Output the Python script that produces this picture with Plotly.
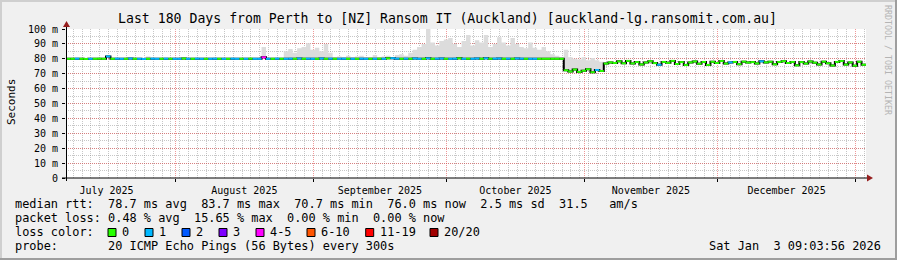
import pandas as pd
import plotly.graph_objects as go

W, H = 897, 260
PL, PR, PT, PB = 66, 866, 29, 178  # plot area in px

START = pd.Timestamp("2025-07-07 09:03:56")
END = pd.Timestamp("2026-01-03 09:03:56")

# ---- data: one value per day (180 days) ----
median_ms = [
    80.0, 80.0, 80.1, 80.0, 79.9, 80.0, 80.0, 80.1, 80.0, 81.6,
    80.0, 80.1, 80.0, 80.0, 80.2, 80.0, 80.0, 79.9, 80.0, 80.1,
    80.0, 80.0, 80.1, 80.0, 80.0, 80.0, 80.2, 80.0, 80.0, 80.1,
    80.0, 80.0, 80.0, 80.1, 80.0, 80.0, 80.0, 80.1, 80.0, 80.0,
    80.0, 80.1, 80.0, 80.0, 81.0, 80.0, 80.0, 80.1, 80.0, 80.0,
    80.1, 80.0, 80.2, 80.0, 80.1, 80.0, 80.0, 80.2, 80.0, 80.1,
    80.0, 80.0, 80.1, 80.0, 80.0, 80.0, 80.1, 80.0, 80.0, 80.0,
    80.1, 80.0, 80.3, 80.4, 80.1, 80.0, 80.1, 80.0, 80.2, 80.0,
    80.0, 80.3, 80.0, 80.1, 80.2, 80.0, 80.0, 80.1, 80.3, 80.0,
    80.1, 80.0, 80.2, 80.0, 80.3, 80.0, 80.1, 80.2, 80.0, 80.1,
    80.0, 80.2, 80.1, 80.0, 80.0, 80.0, 80.0, 80.0, 80.0, 80.0,
    80.0, 80.0, 72.3, 71.5, 72.8, 71.2, 72.0, 73.0, 71.0, 72.5,
    71.8, 76.8, 77.6, 77.2, 78.3, 77.0, 78.6, 76.9, 77.8, 76.2,
    77.5, 78.4, 77.1, 76.0, 77.9, 77.3, 78.6, 76.5, 77.8, 75.8,
    77.6, 78.2, 76.7, 77.9, 75.9, 78.0, 77.2, 78.5, 76.8, 77.6,
    77.9, 76.4, 78.1, 77.5, 77.8, 76.9, 78.3, 77.6, 78.0, 76.3,
    77.9, 78.4, 77.2, 77.9, 75.6, 77.8, 76.8, 78.2, 77.4, 76.2,
    78.1, 77.0, 75.5, 77.9, 78.5, 76.1, 77.6, 75.4, 78.0, 76.0,
]

smoke_top_ms = [
    80.4, 80.5, 80.6, 80.4, 80.5, 80.4, 80.6, 80.5, 80.4, 82.5,
    80.5, 80.6, 80.4, 80.5, 80.7, 80.5, 80.6, 80.4, 81.5, 80.6,
    80.5, 80.4, 80.6, 80.5, 80.4, 80.5, 80.7, 80.5, 80.4, 80.6,
    80.5, 80.4, 80.5, 80.6, 80.4, 80.5, 80.5, 80.6, 80.4, 80.5,
    80.5, 80.6, 80.5, 80.4, 88.0, 80.5, 80.6, 80.6, 80.5, 85.0,
    86.5, 84.0, 87.0, 88.0, 90.5, 86.0, 87.5, 85.0, 90.0, 84.0,
    81.0, 81.5, 81.0, 82.0, 81.0, 81.5, 82.0, 81.0, 81.0, 82.5,
    81.0, 81.5, 82.0, 81.0, 82.5, 83.0, 82.0, 84.0, 86.0, 88.0,
    90.0, 100.0, 91.0, 89.0, 92.0, 93.0, 94.0, 90.0, 88.0, 92.0,
    96.0, 89.0, 92.5, 91.0, 96.0, 88.0, 90.0, 94.5, 91.0, 89.0,
    94.0, 90.0, 88.0, 87.0, 91.0, 87.5, 86.0, 88.0, 85.0, 83.0,
    82.0, 81.0, 86.0, 81.0, 80.0, 79.5, 81.0, 79.0, 80.5, 79.0,
    78.0, 77.4, 78.2, 77.8, 78.9, 77.6, 79.2, 77.5, 78.4, 76.8,
    78.1, 79.0, 77.7, 76.6, 78.5, 77.9, 79.2, 77.1, 78.4, 76.4,
    78.2, 78.8, 77.3, 78.5, 76.5, 78.6, 77.8, 79.1, 77.4, 78.2,
    78.5, 77.0, 78.7, 78.1, 78.4, 77.5, 78.9, 78.2, 78.6, 76.9,
    78.5, 79.0, 77.8, 78.5, 76.2, 78.4, 77.4, 78.8, 78.0, 76.8,
    78.7, 77.6, 76.1, 78.5, 79.1, 76.7, 78.2, 76.0, 78.6, 76.6,
]

# loss class per day: 0 -> "0", 1 -> "1", 2 -> "2", 3 -> "3", 4 -> "4-5", 5 -> "6-10", 6 -> "11-19", 7 -> "20/20"
loss_class = [
    0, 0, 1, 0, 0, 1, 0, 0, 0, 1,
    0, 1, 1, 0, 1, 0, 1, 1, 0, 1,
    1, 0, 1, 0, 1, 1, 0, 1, 0, 1,
    1, 0, 1, 1, 0, 1, 0, 1, 1, 0,
    1, 0, 1, 1, 4, 1, 0, 1, 0, 1,
    1, 0, 1, 0, 1, 1, 0, 1, 0, 1,
    0, 1, 1, 0, 1, 0, 1, 1, 0, 1,
    0, 1, 0, 1, 1, 0, 1, 0, 1, 1,
    0, 1, 0, 1, 1, 0, 1, 1, 0, 1,
    0, 1, 1, 0, 1, 0, 1, 1, 0, 1,
    0, 1, 1, 0, 1, 1, 0, 0, 0, 0,
    0, 0, 0, 0, 0, 0, 0, 0, 0, 1,
    0, 0, 0, 0, 0, 0, 0, 0, 0, 0,
    0, 0, 0, 1, 0, 0, 0, 0, 0, 0,
    0, 0, 0, 0, 0, 0, 0, 0, 0, 1,
    0, 0, 0, 0, 0, 0, 1, 0, 0, 0,
    0, 0, 0, 0, 0, 0, 0, 0, 0, 0,
    0, 0, 0, 0, 0, 0, 0, 0, 0, 0,
]

loss_labels = ["0", "1", "2", "3", "4-5", "6-10", "11-19", "20/20"]
loss_colors = ["#26ff00", "#00b8ff", "#0059ff", "#7e00ff", "#ff00ff", "#ff5500", "#ff0000", "#a10000"]

y_tick_vals = [0, 10, 20, 30, 40, 50, 60, 70, 80, 90, 100]
y_tick_text = ["0", "10 m", "20 m", "30 m", "40 m", "50 m", "60 m", "70 m", "80 m", "90 m", "100 m"]

stats_line = "median rtt:  78.7 ms avg  83.7 ms max  70.7 ms min  76.0 ms now  2.5 ms sd  31.5   am/s"
loss_line = "packet loss: 0.48 % avg  15.65 % max  0.00 % min  0.00 % now"
probe_line = "probe:       20 ICMP Echo Pings (56 Bytes) every 300s"
stamp = "Sat Jan  3 09:03:56 2026"
title = "Last 180 Days from Perth to [NZ] Ransom IT (Auckland) [auckland-lg.ransomit.com.au]"

MONO = "DejaVu Sans Mono"
MGRID = "rgba(225,70,70,0.55)"
GRID = "rgba(130,130,130,0.45)"

# ---- build ----
n = len(median_ms)
t = [START + pd.Timedelta(days=i) for i in range(n + 1)]
med_ext = median_ms + [median_ms[-1]]
smk_ext = smoke_top_ms + [smoke_top_ms[-1]]

fig = go.Figure()
# smoke
fig.add_trace(go.Scatter(x=t, y=med_ext, mode="lines", line=dict(width=0, shape="hv"),
                         hoverinfo="skip", showlegend=False))
fig.add_trace(go.Scatter(x=t, y=smk_ext, mode="lines", line=dict(width=0, shape="hv"),
                         fill="tonexty", fillcolor="#dcdcdc", hoverinfo="skip", showlegend=False))
# black median step line
fig.add_trace(go.Scatter(x=t, y=med_ext, mode="lines", line=dict(width=2, color="#000000", shape="hv"),
                         hoverinfo="skip", showlegend=False))
# coloured median segments by loss
for c, col in enumerate(loss_colors):
    xs, ys = [], []
    for i in range(n):
        if loss_class[i] == c:
            xs += [t[i], t[i + 1], None]
            ys += [median_ms[i], median_ms[i], None]
    if xs:
        fig.add_trace(go.Scatter(x=xs, y=ys, mode="lines", line=dict(width=2, color=col),
                                 hoverinfo="skip", showlegend=False))


def px(x):
    return (x - PL) / (PR - PL)


def py(y):
    return (PB - y) / (PB - PT)


ann = []


def text(x, y, s, size=11.9, xanchor="left", color="#000", angle=0, xshift=None):
    if xshift is None:
        xshift = -2 if xanchor == "left" else (2 if xanchor == "right" else 0)
    ann.append(dict(x=px(x), y=py(y), xref="paper", yref="paper", text=s.replace(" ", "\u00a0"),
                    showarrow=False, xanchor=xanchor, yanchor="middle", textangle=angle,
                    xshift=xshift, borderpad=0,
                    font=dict(family=MONO, size=size, color=color)))


text(447, 18, title, size=13.2, xanchor="center")
text(16, 204, stats_line)
text(16, 218, loss_line)
text(16, 232, "loss color:")
text(16, 246, probe_line)
text(880, 246, stamp, xanchor="right")
text(11, 102, "Seconds", size=11, xanchor="center", angle=-90)
text(888, 60, "RRDTOOL / TOBI OETIKER", size=8.3, xanchor="center", color="#b4b4b4", angle=90)

label_x = [123, 160, 197, 234, 271, 322, 380.7, 445]
shapes = []
for lx, lab, col in zip(label_x, loss_labels, loss_colors):
    text(lx, 232, lab)
    shapes.append(dict(type="rect", xref="paper", yref="paper", x0=px(lx - 15), x1=px(lx - 7),
                       y0=py(236.5), y1=py(228.5), fillcolor=col, line=dict(color="#000", width=1)))

# axes lines and arrows
shapes.append(dict(type="line", xref="paper", yref="paper", x0=px(62), x1=px(868), y0=py(178), y1=py(178),
                   line=dict(color="#000", width=1)))
shapes.append(dict(type="line", xref="paper", yref="paper", x0=px(66.5), x1=px(66.5), y0=py(181), y1=py(26),
                   line=dict(color="#000", width=1)))
shapes.append(dict(type="path", xref="paper", yref="paper",
                   path=f"M {px(867)} {py(174.5)} L {px(873)} {py(178)} L {px(867)} {py(181.5)} Z",
                   fillcolor="#961e1e", line=dict(width=0)))
shapes.append(dict(type="path", xref="paper", yref="paper",
                   path=f"M {px(63)} {py(27)} L {px(66.5)} {py(21)} L {px(70)} {py(27)} Z",
                   fillcolor="#961e1e", line=dict(width=0)))
# frame bevel
shapes.append(dict(type="rect", xref="paper", yref="paper", x0=px(0), x1=px(W), y0=py(0), y1=py(2),
                   fillcolor="#cfcfcf", line=dict(width=0)))
shapes.append(dict(type="rect", xref="paper", yref="paper", x0=px(0), x1=px(2), y0=py(0), y1=py(H),
                   fillcolor="#cfcfcf", line=dict(width=0)))
shapes.append(dict(type="rect", xref="paper", yref="paper", x0=px(W - 2), x1=px(W), y0=py(0), y1=py(H),
                   fillcolor="#9e9e9e", line=dict(width=0)))
shapes.append(dict(type="rect", xref="paper", yref="paper", x0=px(0), x1=px(W), y0=py(H - 2), y1=py(H),
                   fillcolor="#9e9e9e", line=dict(width=0)))

fig.update_layout(
    width=W, height=H,
    margin=dict(l=PL, r=W - PR, t=PT, b=H - PB, pad=0),
    paper_bgcolor="#f0f0f0", plot_bgcolor="#ffffff",
    showlegend=False,
    annotations=ann, shapes=shapes,
    xaxis=dict(type="date", range=[START, END], dtick="M1", tick0="2025-07-01",
               tickformat="%B %Y", ticklabelmode="period",
               showgrid=True, gridcolor=MGRID, griddash="1px,1px", gridwidth=1,
               zeroline=False, showline=False, ticks="outside", ticklen=3, tickcolor="#000",
               tickfont=dict(family=MONO, size=10, color="#000"),
               minor=dict(dtick=2 * 86400000, tick0="2025-07-01", showgrid=True, gridcolor=GRID,
                          griddash="1px,1px", ticks=""),
               fixedrange=True),
    yaxis=dict(range=[0, 100], tickmode="array", tickvals=y_tick_vals, ticktext=y_tick_text,
               showgrid=True, gridcolor=MGRID, griddash="1px,1px", gridwidth=1,
               zeroline=False, showline=False, ticks="outside", ticklen=3, tickcolor="#000",
               ticklabelstandoff=2,
               tickfont=dict(family=MONO, size=10, color="#000"),
               minor=dict(tickmode="linear", tick0=0, dtick=5, showgrid=True, gridcolor=GRID,
                          griddash="1px,1px", ticks=""),
               fixedrange=True),
)

fig.write_html("out.html")
